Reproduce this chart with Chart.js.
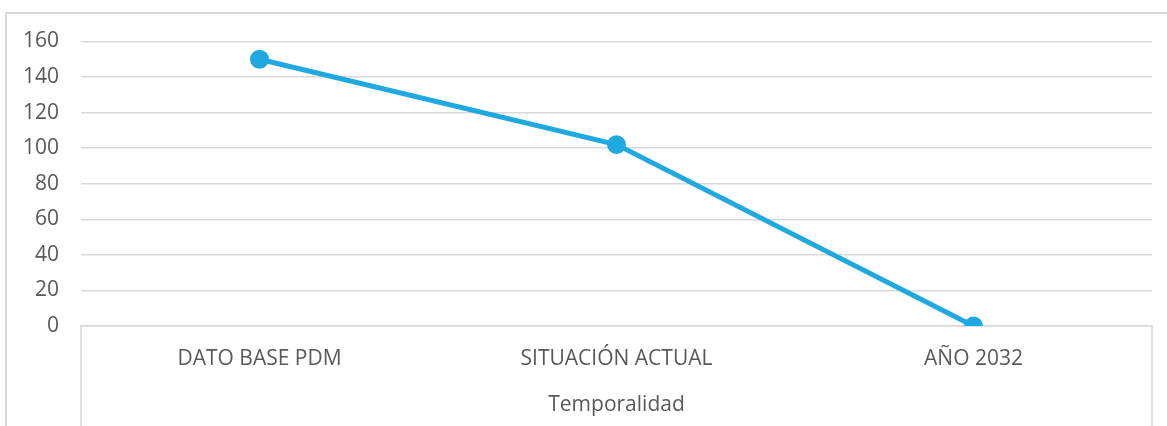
<!DOCTYPE html>
<html>
<head>
<meta charset="utf-8">
<script src="https://cdn.jsdelivr.net/npm/chart.js@4"></script>
<style>
  html, body { margin: 0; padding: 0; background: #fff; overflow: hidden; }
  #frame {
    position: absolute; left: 5px; top: 12px;
    width: 1170px; height: 420px;
    border-left: 2px solid #d9d9d9; border-top: 2px solid #d9d9d9;
  }
  #wrap { position: absolute; left: 0; top: 0; width: 1160px; height: 412px; }
</style>
</head>
<body>
<div id="frame"><div id="wrap"><canvas id="chart"></canvas></div></div>
<script>
const categories = ["DATO BASE PDM", "SITUACIÓN ACTUAL", "AÑO 2032"];
const values = [150, 102, 0];
const axisTitle = "Temporalidad";

const textColor = "#595959";
const gridColor = "#d9d9d9";
const fontFamily = "'Open Sans', sans-serif";
const fontSize = 21;

// vertical edges of the category band below the plot
const edgeLines = {
  id: "edgeLines",
  afterDraw(chart) {
    const { ctx, chartArea } = chart;
    ctx.save();
    ctx.strokeStyle = gridColor;
    ctx.lineWidth = 1.5;
    ctx.beginPath();
    ctx.moveTo(chartArea.left, chartArea.bottom);
    ctx.lineTo(chartArea.left, chart.height);
    ctx.moveTo(chartArea.right, chartArea.bottom);
    ctx.lineTo(chartArea.right, chart.height);
    ctx.stroke();
    ctx.restore();
  }
};

new Chart(document.getElementById("chart"), {
  type: "line",
  data: {
    labels: categories,
    datasets: [{
      data: values,
      borderColor: "#20a9e1",
      backgroundColor: "#20a9e1",
      borderWidth: 5,
      pointRadius: 7,
      pointHoverRadius: 7,
      tension: 0,
      fill: false
    }]
  },
  options: {
    responsive: true,
    maintainAspectRatio: false,
    animation: false,
    layout: { padding: { left: 0, right: 15, top: 27.5, bottom: 0 } },
    plugins: { legend: { display: false }, tooltip: { enabled: false } },
    scales: {
      x: {
        offset: true,
        grid: { display: false, drawTicks: false },
        border: { display: true, color: gridColor, width: 1.5 },
        ticks: { color: textColor, font: { family: fontFamily, size: fontSize }, padding: 20, maxRotation: 0 },
        title: {
          display: true, text: axisTitle, color: textColor,
          font: { family: fontFamily, size: fontSize },
          padding: { top: 0, bottom: 8 }
        },
        afterFit(scale) { scale.height = 100; }
      },
      y: {
        min: 0, max: 160,
        ticks: { stepSize: 20, color: textColor, font: { family: fontFamily, size: fontSize }, padding: 22 },
        grid: { color: gridColor, lineWidth: 1.5, drawTicks: false },
        border: { display: false },
        afterFit(scale) {
          scale.width = 74;
          scale.paddingTop = 0;
          scale.paddingBottom = 0;
        }
      }
    }
  },
  plugins: [edgeLines]
});
</script>
</body>
</html>
